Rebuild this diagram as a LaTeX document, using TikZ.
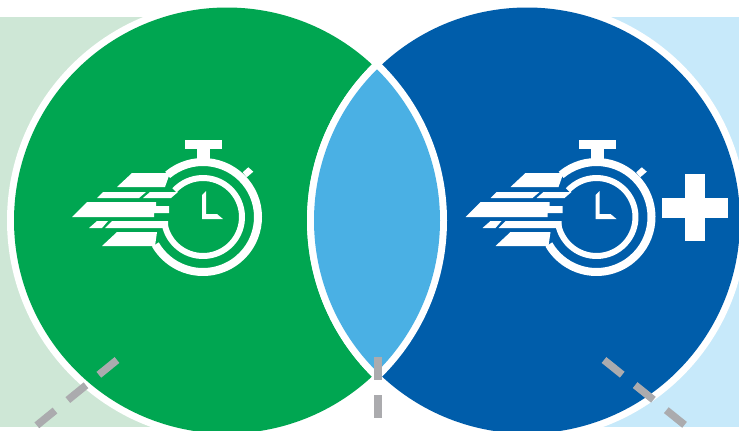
\documentclass[tikz,border=0pt]{standalone}
\usepackage{xcolor}
\definecolor{vennGreen}{HTML}{00A651}
\definecolor{vennBlue}{HTML}{005DAA}
\definecolor{vennLens}{HTML}{4AB0E4}
\definecolor{paleGreen}{HTML}{CEE7D6}
\definecolor{paleBlue}{HTML}{C7E9FA}
\definecolor{guideGray}{HTML}{ABABAE}

\begin{document}
\begin{tikzpicture}[
    x=1pt, y=-1pt,
    iconpart/.style={fill=white, draw=none},
    iconring/.style={draw=white, line width=#1},
    guide/.style={draw=guideGray, line width=7.5pt, dash pattern=on 23.4pt off 16.6pt}
]
    \clip (0,0) rectangle (739,431);
    \fill[white] (0,0) rectangle (739,431);

    \coordinate (leftc) at (227,220.5);
    \coordinate (rightc) at (527,220.5);

    % Pale bands behind the circles
    \fill[paleGreen] (0,17) rectangle (227,427);
    \fill[paleBlue] (527,17) rectangle (739,427);

    % Circles, each with a white rim
    \fill[white] (leftc) circle[radius=220];
    \fill[vennGreen] (leftc) circle[radius=213];
    \fill[white] (rightc) circle[radius=220];
    \fill[vennBlue] (rightc) circle[radius=213];

    % Overlap
    \begin{scope}
        \clip (leftc) circle[radius=220];
        \fill[white] (rightc) circle[radius=220];
        \clip (leftc) circle[radius=213];
        \fill[vennLens] (rightc) circle[radius=213];
    \end{scope}

    % Stopwatch in both circles
    \foreach \sx in {0,393.5} {
        \begin{scope}[shift={(\sx,0)}]
            % crown and pin
            \fill[iconpart] (185,140) rectangle (222,149);
            \fill[iconpart] (197,149) rectangle (210,160);
            \fill[iconpart] (242.7,172.3) -- (248.3,167.3) -- (253.3,171.7) -- (246.7,177.3) -- cycle;
            % rings
            \draw[iconring=8pt] (203,217) ++(-130:55) arc[start angle=-130, end angle=150, radius=55];
            \draw[iconring=6pt] (203,217) ++(-137:39) arc[start angle=-137, end angle=172, radius=39];
            % hands
            \fill[iconpart] (202,195) -- (206,191) -- (206,214) -- (217,214) -- (223,219) -- (202,219) -- cycle;
            % speed stripes
            \fill[iconpart] (117,187) -- (132,173) -- (170,173) -- (165,187) -- cycle;
            \fill[iconpart] (97,198) -- (103,192) -- (146,192) -- (139,198) -- cycle;
            \fill[iconpart] (143,198) -- (150,192) -- (178,192) -- (171,198) -- cycle;
            \fill[iconpart] (72,217) -- (87,202) -- (156,202) -- (156,206) -- (169,206) -- (169,213) -- (154,213) -- (154,217) -- cycle;
            \fill[iconpart] (89,228) -- (97,221) -- (108,221) -- (102,228) -- cycle;
            \fill[iconpart] (105,228) -- (112,221) -- (168,221) -- (168,228) -- cycle;
            \fill[iconpart] (102,246) -- (117,232) -- (157,232) -- (155,246) -- cycle;
        \end{scope}
    }

    % Plus sign
    \fill[iconpart] (685,174) rectangle (705,241);
    \fill[iconpart] (662,198) rectangle (728,218);

    % Dashed guides
    \coordinate (guideAtop) at (117,360);
    \coordinate (guideAend) at (36,426);
    \coordinate (guideBtop) at (378,357);
    \coordinate (guideBend) at (378,418);
    \coordinate (guideCtop) at (604,360);
    \coordinate (guideCend) at (686,426);
    \draw[guide] (guideAtop) -- (guideAend);
    \draw[guide, dash pattern=on 23pt off 15pt] (guideBtop) -- (guideBend);
    \draw[guide] (guideCtop) -- (guideCend);
\end{tikzpicture}
\end{document}
